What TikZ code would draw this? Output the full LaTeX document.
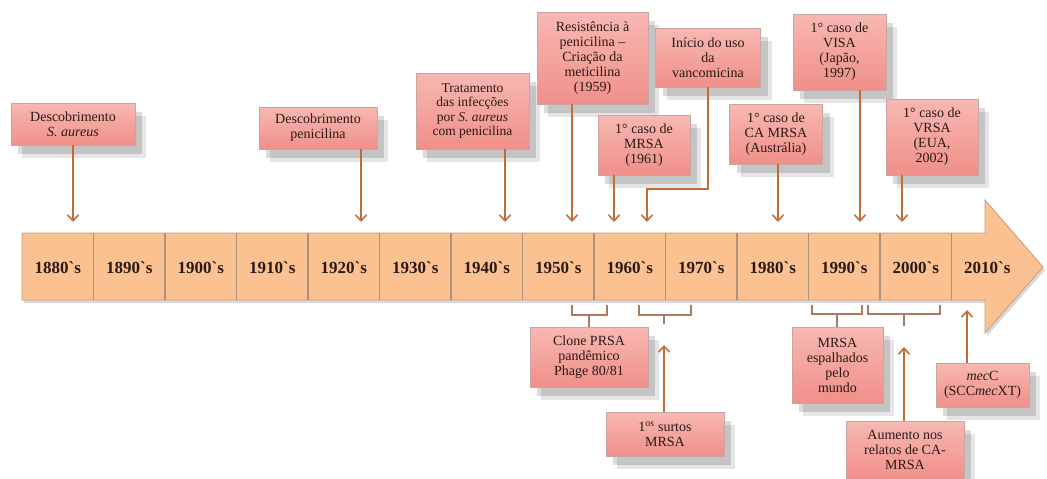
\documentclass[tikz,border=0pt]{standalone}
\usepackage{fontspec}
\setmainfont{Liberation Serif}
\newfontfamily\bandfont{Liberation Serif}
\usetikzlibrary{shadows,arrows.meta}
\definecolor{bandfill}{HTML}{FBC190}
\definecolor{bandline}{HTML}{C99A7E}
\definecolor{divline}{HTML}{B0907F}
\definecolor{boxtop}{HTML}{F8B8B2}
\definecolor{boxbot}{HTML}{F08F89}
\definecolor{boxline}{HTML}{C8A6A2}
\definecolor{conncol}{HTML}{C46C36}
\definecolor{brackcol}{HTML}{A87C60}
\definecolor{txt}{HTML}{2A1A16}
\begin{document}
\begin{tikzpicture}[x=1pt,y=-1pt,
  softshadow/.style={preaction={fill=black, opacity=0.10, transform canvas={xshift=11pt, yshift=-13pt}},
                     preaction={fill=black, opacity=0.14, transform canvas={xshift=7pt, yshift=-9pt}}},
  evbox/.style={draw=boxline, line width=0.6pt, top color=boxtop, bottom color=boxbot,
    text=txt, align=center, inner sep=0pt, font=\fontsize{14}{15}\selectfont, softshadow},
  conn/.style={draw=conncol, line width=1.6pt,
    -{Straight Barb[length=6pt,width=11pt,line width=1.6pt]}},
  brack/.style={draw=brackcol, line width=1.2pt},
  decade/.style={font=\bandfont\bfseries\fontsize{17}{17}\selectfont, text=txt}
]
\useasboundingbox (0,0) rectangle (1047,479);
\fill[white] (0,0) rectangle (1047,479);

% timeline arrow
\path[fill=bandfill, draw=bandline, line width=0.8pt,
      drop shadow={shadow xshift=2pt, shadow yshift=-3pt, opacity=0.3}]
  (22,233) -- (985,233) -- (985,200) -- (1043,267) -- (985,333) -- (985,300) -- (22,300) -- cycle;
\foreach \i in {1,...,13} {
  \draw[divline, line width=1.4pt] ({22+71.5*\i},233) -- ({22+71.5*\i},300);
}
\foreach \y [count=\i from 0] in {1880,1890,1900,1910,1920,1930,1940,1950,1960,1970,1980,1990,2000,2010} {
  \node[decade] (d\y) at ({57.75+71.5*\i},268) {\y`s};
}

% top event boxes
\node[evbox, minimum width=124, minimum height=42] (desc) at (73,124) {Descobrimento\\\textit{S. aureus}};
\node[evbox, minimum width=118, minimum height=42] (pen) at (318,128) {Descobrimento\\penicilina};
\node[evbox, minimum width=113, minimum height=76, font=\fontsize{13.5}{14.5}\selectfont] (trat) at (472.5,111) {Tratamento\\das infecções\\por \textit{S. aureus}\\com penicilina};
\node[evbox, minimum width=111, minimum height=92] (res) at (592.5,58) {Resistência à\\penicilina –\\Criação da\\meticilina\\(1959)};
\node[evbox, minimum width=92, minimum height=60] (mrsa) at (644,145) {1° caso de\\MRSA\\(1961)};
\node[evbox, minimum width=105, minimum height=59] (vanco) at (708,57.5) {Início do uso\\da\\vancomicina};
\node[evbox, minimum width=93, minimum height=60] (camrsa) at (776,134) {1° caso de\\CA MRSA\\(Austrália)};
\node[evbox, minimum width=93, minimum height=76] (visa) at (839.5,52) {1° caso de\\VISA\\(Japão,\\1997)};
\node[evbox, minimum width=92, minimum height=76] (vrsa) at (932,137) {1° caso de\\VRSA\\(EUA,\\2002)};

% bottom event boxes
\node[evbox, minimum width=118, minimum height=60] (clone) at (589,357) {Clone PRSA\\pandêmico\\Phage 80/81};
\node[evbox, minimum width=118, minimum height=44] (surtos) at (665,434) {1\textsuperscript{os} surtos\\MRSA};
\node[evbox, minimum width=91, minimum height=76] (espalh) at (837.5,365) {MRSA\\espalhados\\pelo\\mundo};
\node[evbox, minimum width=118, minimum height=58] (aumento) at (905,450) {Aumento nos\\relatos de CA-\\MRSA};
\node[evbox, minimum width=93, minimum height=44] (mecc) at (982.5,385) {\textit{mec}C\\(SCC\textit{mec}XT)};

% arrow targets
\coordinate (tdesc) at (73,222);
\coordinate (tpen) at (361,222);
\coordinate (ttrat) at (505,222);
\coordinate (tres) at (572,222);
\coordinate (tmrsa) at (614,222);
\coordinate (tvanbend) at (647,189);
\coordinate (tvan) at (647,222);
\coordinate (tcamrsa) at (778,222);
\coordinate (tvisa) at (860,222);
\coordinate (tvrsa) at (902,222);
\coordinate (tsurtos) at (664,345);
\coordinate (taumento) at (904,347);
\coordinate (tmecc) at (967,310);

\draw[conn] (desc.south) -- (tdesc);
\draw[conn] (pen.south -| tpen) -- (tpen);
\draw[conn] (trat.south -| ttrat) -- (ttrat);
\draw[conn] (res.south -| tres) -- (tres);
\draw[conn] (mrsa.south -| tmrsa) -- (tmrsa);
\draw[conn] (vanco.south) |- (tvanbend) -- (tvan);
\draw[conn] (camrsa.south -| tcamrsa) -- (tcamrsa);
\draw[conn] (visa.south -| tvisa) -- (tvisa);
\draw[conn] (vrsa.south -| tvrsa) -- (tvrsa);
\draw[conn] (surtos.north -| tsurtos) -- (tsurtos);
\draw[conn] (aumento.north -| taumento) -- (taumento);
\draw[conn] (mecc.north -| tmecc) -- (tmecc);

% brackets under the timeline
\draw[brack] (572,305) -- (572,315) -- (607,315) -- (607,305);
\draw[brack] (589,315) -- (clone.north);
\draw[brack] (639,305) -- (639,315) -- (691,315) -- (691,305);
\draw[brack] (664,315) -- (664,324);
\draw[brack] (812,305) -- (812,314) -- (862,314) -- (862,305);
\draw[brack] (837,314) -- (espalh.north -| 837,0);
\draw[brack] (868,305) -- (868,314) -- (940,314) -- (940,305);
\draw[brack] (904,314) -- (904,326);
\end{tikzpicture}
\end{document}
